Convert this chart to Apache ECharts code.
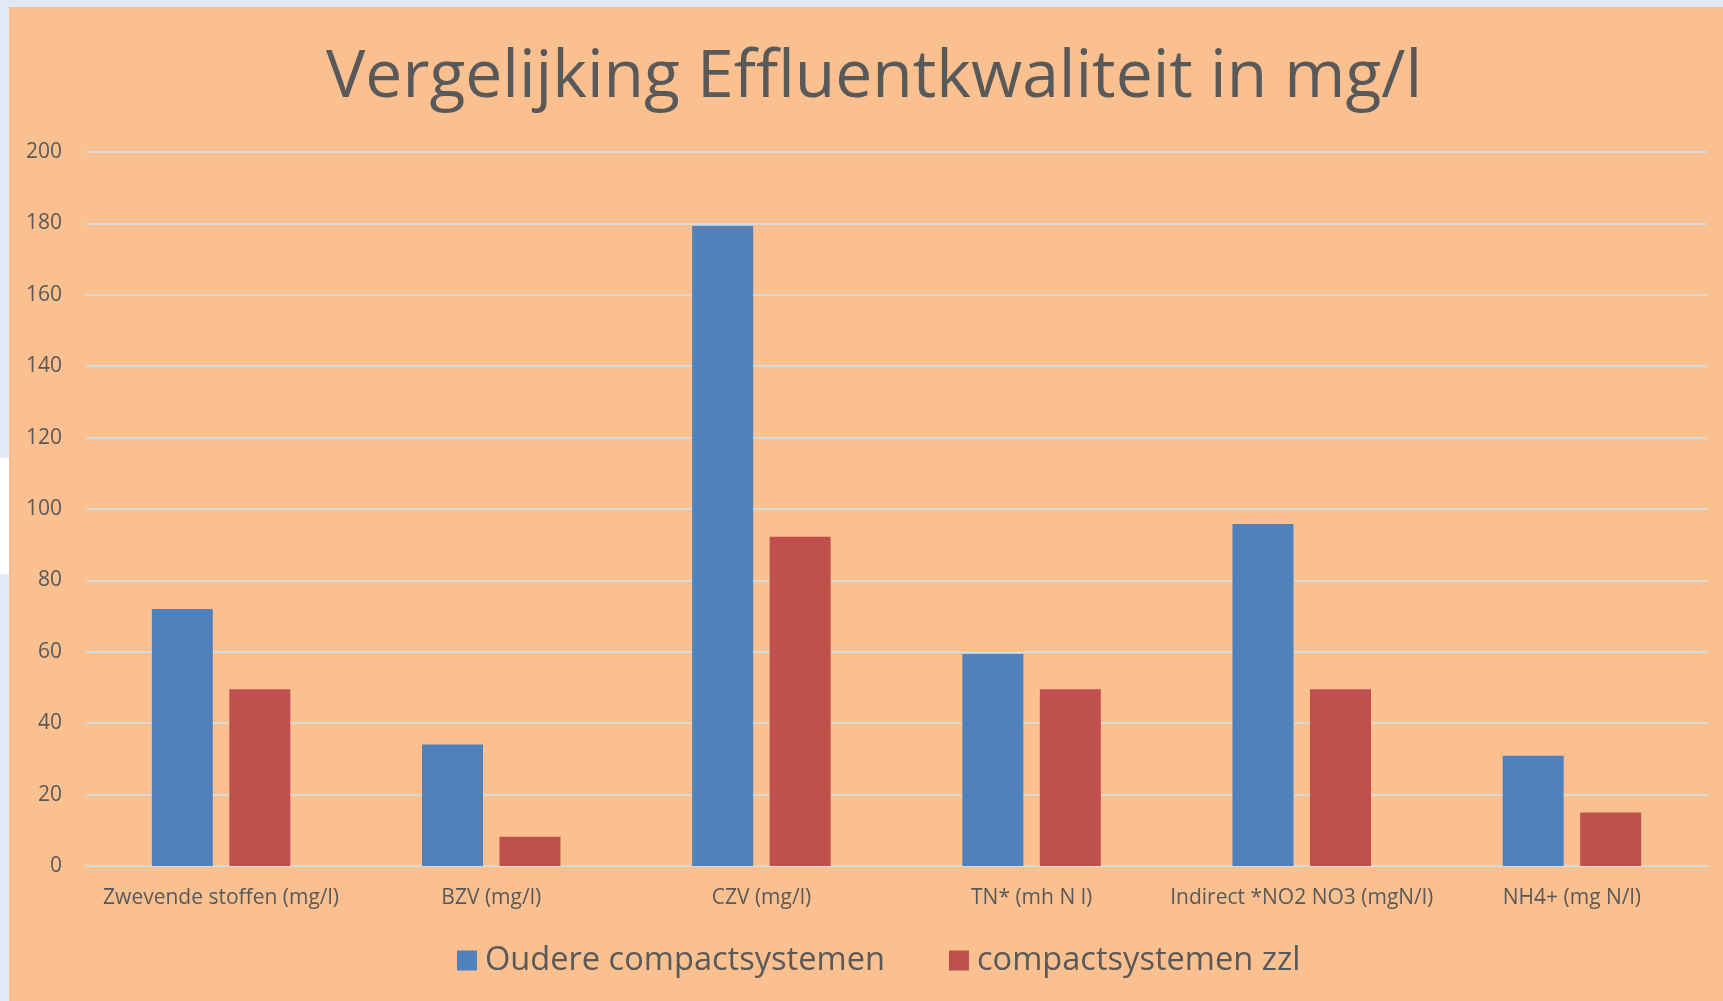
<!DOCTYPE html>
<html>
<head>
<meta charset="utf-8">
<title>Vergelijking Effluentkwaliteit</title>
<script src="https://cdn.jsdelivr.net/npm/echarts@6/dist/echarts.min.js"></script>
<style>
  html, body { margin: 0; padding: 0; width: 1723px; height: 1001px; overflow: hidden; background: #e1eaf4; }
  #edge { position: absolute; left: 0; top: 458px; width: 9px; height: 116px; background: #ffffff; }
  #chart { position: absolute; left: 9px; top: 7px; width: 1714px; height: 994px; background: #fac090; }
</style>
</head>
<body>
<div id="edge"></div>
<div id="chart"></div>
<script>
// categories on the x axis
const categories = [
  'Zwevende stoffen (mg/l)',
  'BZV (mg/l)',
  'CZV (mg/l)',
  'TN* (mh N l)',
  'Indirect *NO2 NO3 (mgN/l)',
  'NH4+ (mg N/l)'
];

// values
const oudere = [72, 34, 179.3, 59.4, 95.8, 30.9];
const zzl = [49.5, 8.2, 92.2, 49.5, 49.5, 15];

const seriesNames = ['Oudere compactsystemen', 'compactsystemen zzl'];

const textColor = '#595959';
const gridColor = '#d9d9d9';
const font = 'Open Sans';

const chart = echarts.init(document.getElementById('chart'));

const option = {
  backgroundColor: '#fac090',
  animation: false,
  title: {
    text: 'Vergelijking Effluentkwaliteit in mg/l',
    left: 317,
    top: 38,
    padding: 0,
    textStyle: {
      fontFamily: font,
      fontSize: 66,
      fontWeight: 'normal',
      color: textColor
    }
  },
  legend: {
    data: seriesNames,
    left: 448,
    top: 937,
    padding: 0,
    icon: 'rect',
    itemWidth: 20,
    itemHeight: 20,
    itemGap: 64,
    textStyle: {
      fontFamily: font,
      fontSize: 32.6,
      color: textColor,
      padding: [0, 0, 0, 3]
    }
  },
  grid: {
    left: 77,
    right: 16,
    top: 145,
    bottom: 135,
    containLabel: false
  },
  xAxis: {
    type: 'category',
    data: categories,
    axisTick: { show: false },
    axisLine: { lineStyle: { color: gridColor, width: 2 } },
    axisLabel: {
      margin: 22,
      fontFamily: font,
      fontSize: 21,
      color: textColor,
      interval: 0
    }
  },
  yAxis: {
    type: 'value',
    min: 0,
    max: 200,
    interval: 20,
    axisLine: { show: false },
    axisTick: { show: false },
    splitLine: { lineStyle: { color: gridColor, width: 2 } },
    axisLabel: {
      margin: 24,
      fontFamily: font,
      fontSize: 21,
      color: textColor
    }
  },
  series: [
    {
      name: seriesNames[0],
      type: 'bar',
      barWidth: 61,
      barGap: '27%',
      data: oudere,
      itemStyle: { color: '#4f81bd' }
    },
    {
      name: seriesNames[1],
      type: 'bar',
      barWidth: 61,
      barGap: '27%',
      data: zzl,
      itemStyle: { color: '#c0504d' }
    }
  ]
};

chart.setOption(option);
</script>
</body>
</html>
